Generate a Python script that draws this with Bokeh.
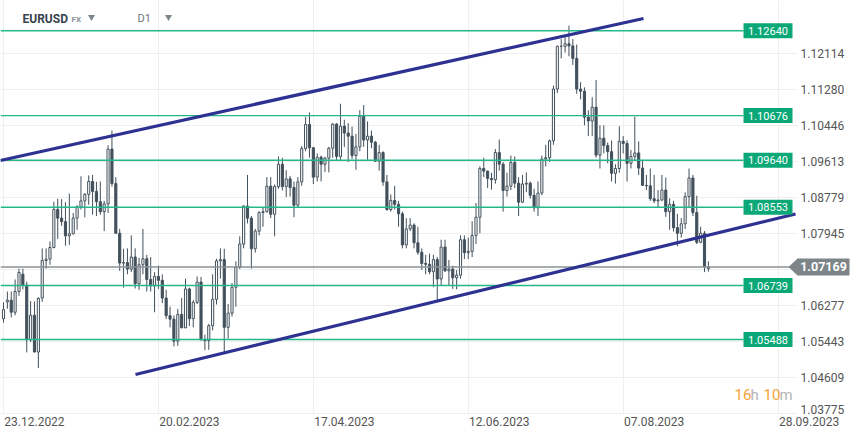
import math
from bokeh.plotting import figure
from bokeh.models import Range1d, FixedTicker
from bokeh.embed import file_html
from bokeh.resources import INLINE
from bokeh.core.properties import value

# ---------------- data (EURUSD, D1) ----------------
opens = [1.0597, 1.0636, 1.0640, 1.0612, 1.0660, 1.0700, 1.0675, 1.0548, 1.0605, 1.0520,
         1.0645, 1.0732, 1.0735, 1.0762, 1.0850, 1.0830, 1.0822, 1.0789, 1.0794, 1.0830,
         1.0856, 1.0870, 1.0885, 1.0915, 1.0892, 1.0868, 1.0845, 1.0863, 1.0990, 1.0910,
         1.0795, 1.0726, 1.0727, 1.0712, 1.0740, 1.0678, 1.0722, 1.0736, 1.0688, 1.0673,
         1.0695, 1.0686, 1.0645, 1.0604, 1.0596, 1.0545, 1.0607, 1.0576, 1.0666, 1.0597,
         1.0635, 1.0682, 1.0548, 1.0546, 1.0581, 1.0642, 1.0731, 1.0734, 1.0577, 1.0610,
         1.0670, 1.0717, 1.0770, 1.0858, 1.0830, 1.0759, 1.0800, 1.0843, 1.0845, 1.0904,
         1.0839, 1.0903, 1.0955, 1.0903, 1.0921, 1.0901, 1.0860, 1.0914, 1.0991, 1.1047,
         1.0993, 1.0925, 1.0971, 1.0955, 1.0969, 1.0992, 1.1048, 1.0973, 1.1043, 1.1027,
         1.1020, 1.0975, 1.0995, 1.1066, 1.1011, 1.1020, 1.1006, 1.0962, 1.0982, 1.0914,
         1.0850, 1.0871, 1.0862, 1.0840, 1.0768, 1.0805, 1.0814, 1.0773, 1.0751, 1.0725,
         1.0723, 1.0706, 1.0734, 1.0689, 1.0763, 1.0708, 1.0712, 1.0692, 1.0698, 1.0780,
         1.0750, 1.0753, 1.0790, 1.0832, 1.0945, 1.0939, 1.0922, 1.0919, 1.0982, 1.0955,
         1.0894, 1.0904, 1.0959, 1.0911, 1.0867, 1.0909, 1.0911, 1.0883, 1.0854, 1.0888,
         1.0967, 1.0970, 1.1009, 1.1129, 1.1228, 1.1228, 1.1234, 1.1229, 1.1200, 1.1129,
         1.1124, 1.1064, 1.1055, 1.1087, 1.0976, 1.1015, 1.0998, 1.0984, 1.0934, 1.0945,
         1.1008, 1.1003, 1.0957, 1.0973, 1.0981, 1.0946, 1.0906, 1.0905, 1.0875, 1.0870,
         1.0872, 1.0895, 1.0845, 1.0862, 1.0808, 1.0795, 1.0817, 1.0880, 1.0923, 1.0843,
         1.0774, 1.0795, 1.0713]
highs = [1.0635, 1.0660, 1.0660, 1.0688, 1.0713, 1.0713, 1.0683, 1.0638, 1.0637, 1.0647,
         1.0760, 1.0760, 1.0776, 1.0868, 1.0875, 1.0874, 1.0867, 1.0887, 1.0842, 1.0860,
         1.0927, 1.0888, 1.0929, 1.0930, 1.0914, 1.0915, 1.0870, 1.0999, 1.1033, 1.0925,
         1.0805, 1.0759, 1.0760, 1.0790, 1.0760, 1.0738, 1.0805, 1.0745, 1.0740, 1.0705,
         1.0720, 1.0700, 1.0664, 1.0625, 1.0605, 1.0620, 1.0645, 1.0690, 1.0669, 1.0640,
         1.0695, 1.0694, 1.0560, 1.0585, 1.0700, 1.0736, 1.0760, 1.0759, 1.0631, 1.0680,
         1.0730, 1.0788, 1.0860, 1.0930, 1.0835, 1.0805, 1.0846, 1.0855, 1.0925, 1.0925,
         1.0908, 1.0973, 1.0970, 1.0941, 1.0928, 1.0915, 1.0925, 1.0997, 1.1065, 1.1075,
         1.0995, 1.0980, 1.0975, 1.0972, 1.0995, 1.1050, 1.1050, 1.1095, 1.1058, 1.1050,
         1.1042, 1.1025, 1.1080, 1.1092, 1.1054, 1.1033, 1.1009, 1.1000, 1.0985, 1.0930,
         1.0885, 1.0905, 1.0870, 1.0845, 1.0830, 1.0830, 1.0818, 1.0810, 1.0760, 1.0745,
         1.0748, 1.0745, 1.0740, 1.0780, 1.0780, 1.0733, 1.0720, 1.0710, 1.0790, 1.0790,
         1.0785, 1.0823, 1.0865, 1.0950, 1.0970, 1.0940, 1.0935, 1.0990, 1.1012, 1.0960,
         1.0935, 1.0975, 1.0973, 1.0925, 1.0930, 1.0936, 1.0915, 1.0898, 1.0915, 1.0975,
         1.1000, 1.1012, 1.1137, 1.1230, 1.1245, 1.1249, 1.1276, 1.1245, 1.1232, 1.1145,
         1.1133, 1.1080, 1.1110, 1.1150, 1.1045, 1.1045, 1.1005, 1.1010, 1.0955, 1.1043,
         1.1020, 1.1010, 1.0988, 1.1065, 1.1008, 1.0965, 1.0930, 1.0945, 1.0930, 1.0895,
         1.0930, 1.0924, 1.0876, 1.0870, 1.0840, 1.0830, 1.0890, 1.0945, 1.0930, 1.0882,
         1.0810, 1.0800, 1.0730]
lows = [1.0588, 1.0620, 1.0600, 1.0605, 1.0650, 1.0665, 1.0519, 1.0543, 1.0519, 1.0483,
        1.0636, 1.0713, 1.0722, 1.0760, 1.0782, 1.0812, 1.0766, 1.0768, 1.0792, 1.0803,
        1.0850, 1.0832, 1.0861, 1.0838, 1.0835, 1.0838, 1.0800, 1.0842, 1.0903, 1.0794,
        1.0708, 1.0669, 1.0700, 1.0705, 1.0667, 1.0664, 1.0700, 1.0660, 1.0660, 1.0612,
        1.0666, 1.0633, 1.0596, 1.0577, 1.0533, 1.0534, 1.0575, 1.0575, 1.0580, 1.0577,
        1.0631, 1.0547, 1.0524, 1.0525, 1.0570, 1.0630, 1.0690, 1.0516, 1.0551, 1.0602,
        1.0625, 1.0712, 1.0760, 1.0818, 1.0713, 1.0750, 1.0790, 1.0810, 1.0843, 1.0830,
        1.0788, 1.0898, 1.0894, 1.0879, 1.0880, 1.0832, 1.0855, 1.0905, 1.0985, 1.0970,
        1.0909, 1.0915, 1.0915, 1.0937, 1.0936, 1.0970, 1.0965, 1.0965, 1.0995, 1.0960,
        1.0967, 1.0942, 1.0985, 1.0995, 1.0965, 1.0992, 1.0960, 1.0940, 1.0905, 1.0847,
        1.0845, 1.0850, 1.0810, 1.0760, 1.0760, 1.0800, 1.0760, 1.0745, 1.0710, 1.0700,
        1.0700, 1.0670, 1.0635, 1.0675, 1.0705, 1.0675, 1.0666, 1.0665, 1.0690, 1.0735,
        1.0735, 1.0740, 1.0770, 1.0795, 1.0925, 1.0900, 1.0896, 1.0910, 1.0940, 1.0845,
        1.0880, 1.0895, 1.0900, 1.0835, 1.0865, 1.0890, 1.0875, 1.0845, 1.0835, 1.0883,
        1.0950, 1.0960, 1.1000, 1.1120, 1.1200, 1.1214, 1.1205, 1.1185, 1.1118, 1.1105,
        1.1045, 1.1020, 1.1020, 1.0970, 1.0945, 1.0980, 1.0957, 1.0915, 1.0910, 1.0935,
        1.0980, 1.0915, 1.0945, 1.0965, 1.0930, 1.0905, 1.0895, 1.0870, 1.0865, 1.0855,
        1.0870, 1.0833, 1.0803, 1.0799, 1.0765, 1.0785, 1.0805, 1.0855, 1.0835, 1.0770,
        1.0772, 1.0705, 1.0706]
closes = [1.0618, 1.0640, 1.0612, 1.0660, 1.0704, 1.0675, 1.0548, 1.0605, 1.0520, 1.0644,
          1.0732, 1.0735, 1.0762, 1.0850, 1.0830, 1.0822, 1.0789, 1.0794, 1.0830, 1.0856,
          1.0870, 1.0885, 1.0915, 1.0892, 1.0868, 1.0845, 1.0863, 1.0990, 1.0910, 1.0795,
          1.0726, 1.0727, 1.0712, 1.0740, 1.0678, 1.0722, 1.0736, 1.0688, 1.0673, 1.0695,
          1.0686, 1.0645, 1.0604, 1.0596, 1.0545, 1.0607, 1.0576, 1.0666, 1.0597, 1.0635,
          1.0682, 1.0548, 1.0546, 1.0581, 1.0642, 1.0731, 1.0734, 1.0577, 1.0610, 1.0670,
          1.0717, 1.0770, 1.0858, 1.0830, 1.0759, 1.0800, 1.0843, 1.0845, 1.0904, 1.0839,
          1.0903, 1.0955, 1.0903, 1.0921, 1.0901, 1.0860, 1.0914, 1.0991, 1.1047, 1.0993,
          1.0925, 1.0971, 1.0955, 1.0969, 1.0992, 1.1048, 1.0973, 1.1043, 1.1027, 1.1020,
          1.0975, 1.0995, 1.1066, 1.1011, 1.1020, 1.1006, 1.0962, 1.0982, 1.0914, 1.0850,
          1.0871, 1.0862, 1.0840, 1.0768, 1.0805, 1.0814, 1.0773, 1.0751, 1.0725, 1.0723,
          1.0706, 1.0734, 1.0689, 1.0763, 1.0708, 1.0712, 1.0692, 1.0698, 1.0780, 1.0750,
          1.0753, 1.0790, 1.0832, 1.0945, 1.0939, 1.0922, 1.0919, 1.0982, 1.0955, 1.0894,
          1.0904, 1.0959, 1.0911, 1.0867, 1.0909, 1.0911, 1.0883, 1.0854, 1.0888, 1.0967,
          1.0970, 1.1009, 1.1129, 1.1228, 1.1228, 1.1234, 1.1229, 1.1200, 1.1129, 1.1124,
          1.1064, 1.1055, 1.1087, 1.0976, 1.1015, 1.0998, 1.0984, 1.0934, 1.0945, 1.1008,
          1.1003, 1.0957, 1.0973, 1.0981, 1.0946, 1.0906, 1.0905, 1.0875, 1.0870, 1.0872,
          1.0895, 1.0845, 1.0862, 1.0808, 1.0795, 1.0817, 1.0880, 1.0923, 1.0843, 1.0774,
          1.0795, 1.0718, 1.07169]

date_labels = ["23.12.2022", "20.02.2023", "17.04.2023", "12.06.2023", "07.08.2023", "28.09.2023"]
date_label_bars = [0, 40, 80, 120, 160, 200]
price_ticks = [1.12114, 1.11280, 1.10446, 1.09613, 1.08779, 1.07945, 1.06277, 1.05443, 1.04609, 1.03775]
hidden_grid_ticks = [1.07111]
levels = [1.12640, 1.10676, 1.09640, 1.08553, 1.06739, 1.05488]
upper_channel_x = [-0.8, 165.25]
upper_channel_y = [1.09635, 1.12925]
lower_channel_x = [34.08, 204.5]
lower_channel_y = [1.04678, 1.08396]
symbol = "EURUSD"
market = "FX"
timeframe = "D1"
countdown = [("16", True), ("h", False), ("10", True), ("m", False)]

# ---------------- geometry helpers (reference pixel grid) ----------------
PX_PER_BAR = 3.873
BAR0_PX = 3.0
PX_PER_UNIT = 4317.0
REF_Y = 53.0
REF_PRICE = 1.12114
W, H = 851, 431
FRAME_H = 414


def bx(px):
    return (px - BAR0_PX) / PX_PER_BAR


def py(pix):
    return REF_PRICE - (pix - REF_Y) / PX_PER_UNIT


CANDLE = "#42505c"
GREEN_LINE = "#22b98a"
GREEN_BOX = "#0aa877"
GRID = "#efefef"
BLUE = "#2d3192"
GRAY = "#8a9094"
FONT = value("Roboto")

p = figure(width=W, height=H, output_backend="svg", toolbar_location=None,
           x_range=Range1d(bx(0), bx(W)), y_range=Range1d(py(FRAME_H), py(0)),
           y_axis_location=None, min_border_left=0, min_border_right=0,
           min_border_top=0, min_border_bottom=H - FRAME_H)
p.outline_line_color = None
p.background_fill_color = "white"
p.border_fill_color = "white"

# grid
p.ygrid.visible = False
p.xgrid.ticker = FixedTicker(ticks=date_label_bars)
p.xgrid.grid_line_color = GRID
p.xgrid.grid_line_width = 1
gy = price_ticks + hidden_grid_ticks
p.segment(x0=[bx(0)] * len(gy), x1=[bx(797)] * len(gy), y0=gy, y1=gy,
          line_color=GRID, line_width=1)

# x axis (date labels, left-aligned to grid lines)
p.xaxis.ticker = FixedTicker(ticks=[b + 8 for b in date_label_bars])
p.xaxis.major_label_overrides = {b + 8: lab for b, lab in zip(date_label_bars, date_labels)}
p.xaxis.axis_line_color = None
p.xaxis.major_tick_line_color = None
p.xaxis.minor_tick_line_color = None
p.xaxis.major_tick_out = 0
p.xaxis.major_tick_in = 0
p.xaxis.major_label_standoff = 2
p.xaxis.major_label_text_font = "Roboto"
p.xaxis.major_label_text_font_size = "12px"
p.xaxis.major_label_text_color = "#555555"

# candles
n = len(closes)
idx = list(range(n))
p.segment(x0=idx, x1=idx, y0=lows, y1=highs, line_color=CANDLE, line_width=1)
up_x = [i for i in idx if closes[i] >= opens[i]]
dn_x = [i for i in idx if closes[i] < opens[i]]
p.vbar(x=up_x, width=0.55, top=[closes[i] for i in up_x], bottom=[opens[i] for i in up_x],
       fill_color="white", line_color=CANDLE, line_width=1)
p.vbar(x=dn_x, width=0.55, top=[opens[i] for i in dn_x], bottom=[closes[i] for i in dn_x],
       fill_color=CANDLE, line_color=CANDLE, line_width=1)

# horizontal levels
nl = len(levels)
p.segment(x0=[bx(0)] * nl, x1=[bx(743)] * nl, y0=levels, y1=levels,
          line_color=GREEN_LINE, line_width=1.4)
current = closes[-1]
p.segment(x0=[bx(0)], x1=[bx(790)], y0=[current], y1=[current], line_color=GRAY, line_width=1.5)

# channel
p.line(upper_channel_x, upper_channel_y, line_color=BLUE, line_width=3.2)
p.line(lower_channel_x, lower_channel_y, line_color=BLUE, line_width=3.2)

# level labels
p.rect(x=[bx(767.5)] * nl, y=levels, width=49, height=15, width_units="screen",
       height_units="screen", fill_color=GREEN_BOX, line_color=None)
p.text(x=[bx(767.5)] * nl, y=levels, text=["%.5f" % v for v in levels],
       text_align="center", text_baseline="middle", text_color="white",
       text_font=FONT, text_font_size="11px")

# current price label (arrow box)
half = 8.5 / PX_PER_UNIT
p.patch(x=[bx(788), bx(797), bx(849), bx(849), bx(797)],
        y=[current, current + half, current + half, current - half, current - half],
        fill_color="#7d8589", line_color=None)
p.text(x=[bx(823)], y=[current], text=["%.5f" % current], text_align="center",
       text_baseline="middle", text_color="white", text_font=FONT,
       text_font_size="12.5px", text_font_style="bold")

# price scale labels
offs = [0] * (len(price_ticks) - 1) + [-4]
p.text(x=[bx(800)] * len(price_ticks), y=price_ticks, y_offset=offs,
       text=["%.5f" % v for v in price_ticks], text_align="left", text_baseline="middle",
       text_color="#555555", text_font=FONT, text_font_size="12px")

# header
hy = py(18)
p.text(x=[bx(22)], y=[hy], text=[symbol], text_align="left", text_baseline="middle",
       text_color="#37424d", text_font=FONT, text_font_size="12px", text_font_style="bold")
p.text(x=[bx(71)], y=[py(18.5)], text=[market], text_align="left", text_baseline="middle",
       text_color="#8a9299", text_font=FONT, text_font_size="8px", text_font_style="bold")
p.text(x=[bx(137)], y=[hy], text=[timeframe], text_align="left", text_baseline="middle",
       text_color="#6c757d", text_font=FONT, text_font_size="11px")
p.scatter(x=[bx(91), bx(168)], y=[py(16.5)] * 2, marker="inverted_triangle", size=7,
          fill_color="#7b858c", line_color=None)

# countdown
cx = [734, 750, 763, 779]
for (txt, is_num), x in zip(countdown, cx):
    p.text(x=[bx(x)], y=[py(394)], text=[txt], text_align="left", text_baseline="middle",
           text_color="#f5a33a" if is_num else "#b5b5b5", text_font=FONT,
           text_font_size="15px", text_font_style="normal")

open("out.html", "w").write(file_html(p, INLINE))
